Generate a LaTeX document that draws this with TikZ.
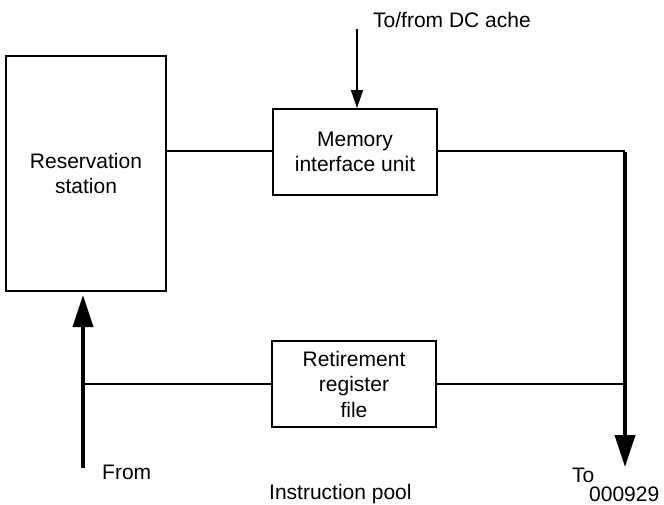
\documentclass[tikz,border=0pt]{standalone}
\usepackage{fontspec}
\setmainfont{Liberation Sans}
\usetikzlibrary{arrows.meta}
\begin{document}
\begin{tikzpicture}[x=1pt,y=-1pt,
  box/.style={draw,line width=1.8pt,align=center,inner sep=0pt,
    font=\fontsize{21}{25.5}\selectfont},
  lbl/.style={anchor=west,inner sep=0pt,font=\fontsize{21}{25}\selectfont},
  thinline/.style={line width=1.2pt},
  bigarrow/.style={line width=4pt,-{Triangle[length=32pt,width=20pt]}},
  smallarrow/.style={line width=1.3pt,-{Triangle[length=18pt,width=12pt]}}]
\useasboundingbox (0,0) rectangle (664,505);
\node[box,minimum width=160pt,minimum height=235pt] (rs) at (86,173.5) {Reservation\\station};
\node[box,minimum width=164pt,minimum height=86pt] (mem) at (355,152) {Memory\\interface unit};
\node[box,minimum width=164pt,minimum height=86pt] (ret) at (354,384) {Retirement\\register\\file};
\coordinate (cTR) at (625,151);
\coordinate (cOut) at (625,467);
\coordinate (cBR) at (625,384);
\coordinate (cBL) at (83,384);
\coordinate (cIn) at (83,468);
\coordinate (cInTip) at (83,295);
\coordinate (cTop) at (357,29);
\draw[thinline] (rs.east |- cTR) -- (mem.west |- cTR);
\draw[thinline] (mem.east |- cTR) -- (cTR);
\draw[thinline] (cBL) -- (ret.west |- cBL);
\draw[thinline] (ret.east |- cBR) -- (cBR);
\draw[bigarrow] ([yshift=-1pt]cTR) -- (cOut);
\draw[bigarrow] (cIn) -- (cInTip);
\draw[smallarrow] (cTop) -- (mem.north -| cTop);
\node[lbl] (dc) at (373,20) {To/from DC ache};
\node[lbl] (from) at (102,472) {From};
\node[lbl] (pool) at (269,494) {Instruction pool};
\node[lbl] (to) at (572,475) {To};
\node[lbl] (num) at (589,494) {000929};
\end{tikzpicture}
\end{document}
